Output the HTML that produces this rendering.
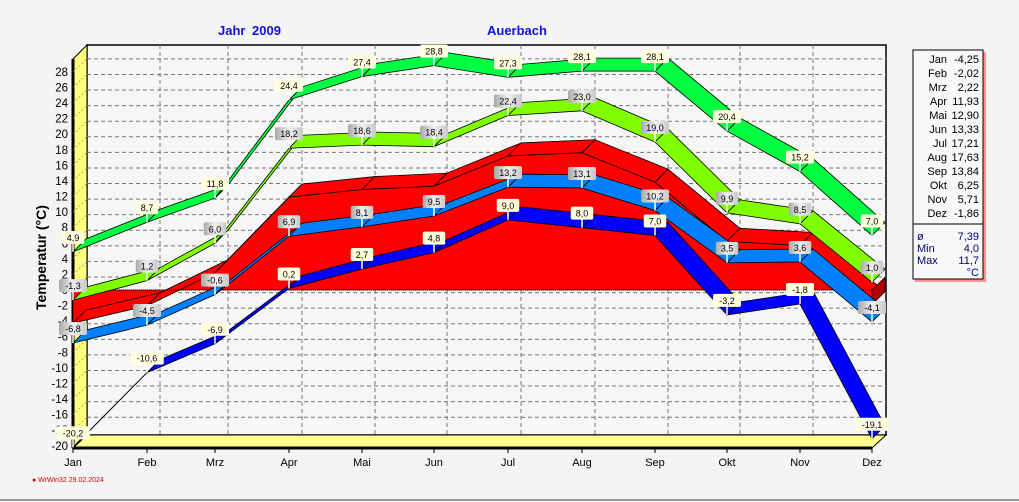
<!DOCTYPE html>
<html><head><meta charset="utf-8"><style>
body{margin:0;width:1019px;height:502px;overflow:hidden;background:#f4f4f4;font-family:"Liberation Sans",sans-serif}
svg{position:absolute;left:0;top:0}
</style></head><body>
<svg id="s" width="1019" height="502" xmlns="http://www.w3.org/2000/svg" font-family="Liberation Sans, sans-serif">
<defs><linearGradient id="g" x1="0" y1="0" x2="1" y2="0"><stop offset="0" stop-color="#a8a8a8"/><stop offset="0.5" stop-color="#f0f0f0"/><stop offset="1" stop-color="#c8c8c8"/></linearGradient></defs>
<line x1="0" y1="500" x2="1019" y2="500" stroke="#999" stroke-width="2"/>
<text x="218" y="35" fill="#1010e0" font-size="13" font-weight="bold">Jahr</text>
<text x="252" y="35" fill="#1010e0" font-size="13" font-weight="bold">2009</text>
<text x="487" y="35" fill="#1010e0" font-size="13" font-weight="bold">Auerbach</text>
<rect x="87" y="45" width="799" height="390" fill="#f6f6f6" stroke="#000" stroke-width="1.5"/>
<polygon points="73,59 87,45 87,435 73,448" fill="#ffff80" stroke="#000"/>
<line x1="73" y1="59" x2="73" y2="448" stroke="#000" stroke-width="3"/>
<polygon points="73,448 87,435 886,435 872,448" fill="#ffff90" stroke="#000"/>
<line x1="73" y1="448" x2="872" y2="448" stroke="#000" stroke-width="3"/>
<g id="grid"></g><g id="ser"></g><g id="lab"></g>
<text transform="translate(46,310) rotate(-90)" font-size="14" font-weight="bold" fill="#000">Temperatur  (°C)</text>
<text x="32" y="482" font-size="7" fill="#e00000">● WrWin32  29.02.2024</text>
<rect x="915" y="52" width="71" height="230" fill="#ff9090"/>
<rect x="913" y="50" width="70" height="229" fill="#f8f8f8" stroke="#000"/>
<line x1="913" y1="224" x2="983" y2="224" stroke="#000"/>
<g font-size="11" text-anchor="end" id="leg"></g>
</svg>
<script>
const X=[73,147,215,289,362,434,508,582,655,727,800,872];
const Y=v=>290-v*7.79, DX=13, DY=-13;
const ns="http://www.w3.org/2000/svg";
function el(p,t,a,txt){const e=document.createElementNS(ns,t);for(const k in a)e.setAttribute(k,a[k]);if(txt!=null)e.textContent=txt;document.getElementById(p).appendChild(e);return e;}
for(let v=-20;v<=28;v+=2){const y=Y(v);
 if(v>-20&&v<30) el("grid","line",{x1:87,y1:y+DY,x2:886,y2:y+DY,stroke:"#777","stroke-dasharray":"4,3","stroke-width":1});
 el("grid","line",{x1:73,y1:y,x2:87,y2:y+DY,stroke:"#777","stroke-width":0.6,"stroke-dasharray":"2,2"});
 el("grid","text",{x:68,y:y+4,"font-size":11.5,"text-anchor":"end"},String(v));
}
X.forEach((x,i)=>{if(i>0&&i<11)el("grid","line",{x1:x+DX,y1:45,x2:x+DX,y2:435,stroke:"#777","stroke-dasharray":"4,3"});
 el("grid","line",{x1:x,y1:448,x2:x,y2:453,stroke:"#000"});
 el("grid","text",{x:x,y:466,"font-size":11,"text-anchor":"middle"},["Jan","Feb","Mrz","Apr","Mai","Jun","Jul","Aug","Sep","Okt","Nov","Dez"][i]);});
const amax=[4.9,8.7,11.8,24.4,27.4,28.8,27.3,28.1,28.1,20.4,15.2,7.0];
const mmax=[-1.3,1.2,6.0,18.2,18.6,18.4,22.4,23.0,19.0,9.9,8.5,1.0];
const mean=[-4.25,-2.02,2.22,11.93,12.90,13.33,17.21,17.63,13.84,6.25,5.71,-1.86];
const mmin=[-6.8,-4.5,-0.6,6.9,8.1,9.5,13.2,13.1,10.2,3.5,3.6,-4.1];
const amin=[-20.2,-10.6,-6.9,0.2,2.7,4.8,9.0,8.0,7.0,-3.2,-1.8,-19.1];
function P(a){return a.map(p=>p.join(",")).join(" ");}
let front=[[X[0],Y(0)]];mean.forEach((v,i)=>front.push([X[i],Y(v)]));front.push([X[11],Y(0)]);
el("ser","polygon",{points:P(front),fill:"#ff0000",stroke:"#000","stroke-width":0.6});
for(let i=0;i<11;i++){const a=[X[i],Y(mean[i])],b=[X[i+1],Y(mean[i+1])];
 el("ser","polygon",{points:P([a,b,[b[0]+DX,b[1]+DY],[a[0]+DX,a[1]+DY]]),fill:"#ff0000",stroke:"#000","stroke-width":0.8});}
el("ser","polygon",{points:P([[X[11],Y(0)],[X[11],Y(mean[11])],[X[11]+DX,Y(mean[11])+DY],[X[11]+DX,Y(0)+DY]]),fill:"#b00000",stroke:"#000","stroke-width":0.6});
el("ser","line",{x1:73,y1:Y(0),x2:872,y2:Y(0),stroke:"#000","stroke-dasharray":"1,1"});
function ribbon(d,col,skip){for(let i=0;i<11;i++){const a=[X[i],Y(d[i])],b=[X[i+1],Y(d[i+1])];
 if(skip&&i==0){el("ser","line",{x1:a[0],y1:a[1],x2:b[0],y2:b[1],stroke:"#000","stroke-width":1});continue;}
 el("ser","polygon",{points:P([a,b,[b[0]+DX,b[1]+DY],[a[0]+DX,a[1]+DY]]),fill:col,stroke:"#000","stroke-width":0.8});}}
ribbon(amax,"#00ff40");ribbon(mmax,"#80ff00");ribbon(mmin,"#0080ff");ribbon(amin,"#0000ff",true);
function labels(d,grey){d.forEach((v,i)=>{const x=X[i],y=Y(v);const t=v.toFixed(1).replace(".",",");const w=t.length*5.5+6;
 el("lab","line",{x1:x,y1:y,x2:x,y2:y-9,stroke:"#fff","stroke-width":1.5});
 el("lab","rect",{x:x-w/2,y:y-21,width:w,height:13,rx:2,fill:grey?"url(#g)":"#ffffe0"});
 el("lab","text",{x:x,y:y-11,"font-size":9,"text-anchor":"middle"},t);});}
labels(amax,false);labels(mmax,true);labels(mmin,true);labels(amin,false);
const L=[["Jan","-4,25"],["Feb","-2,02"],["Mrz","2,22"],["Apr","11,93"],["Mai","12,90"],["Jun","13,33"],["Jul","17,21"],["Aug","17,63"],["Sep","13,84"],["Okt","6,25"],["Nov","5,71"],["Dez","-1,86"]];
L.forEach((r,i)=>{const y=63+i*14;el("leg","text",{x:947,y:y},r[0]);el("leg","text",{x:979,y:y},r[1]);});
[["ø","7,39",240],["Min","4,0",252],["Max","11,7",264]].forEach(r=>{el("leg","text",{x:917,y:r[2],"text-anchor":"start",fill:"#000080"},r[0]);el("leg","text",{x:979,y:r[2],fill:"#000080"},r[1]);});
el("leg","text",{x:979,y:276,fill:"#000080"},"°C");
</script>
</body></html>
